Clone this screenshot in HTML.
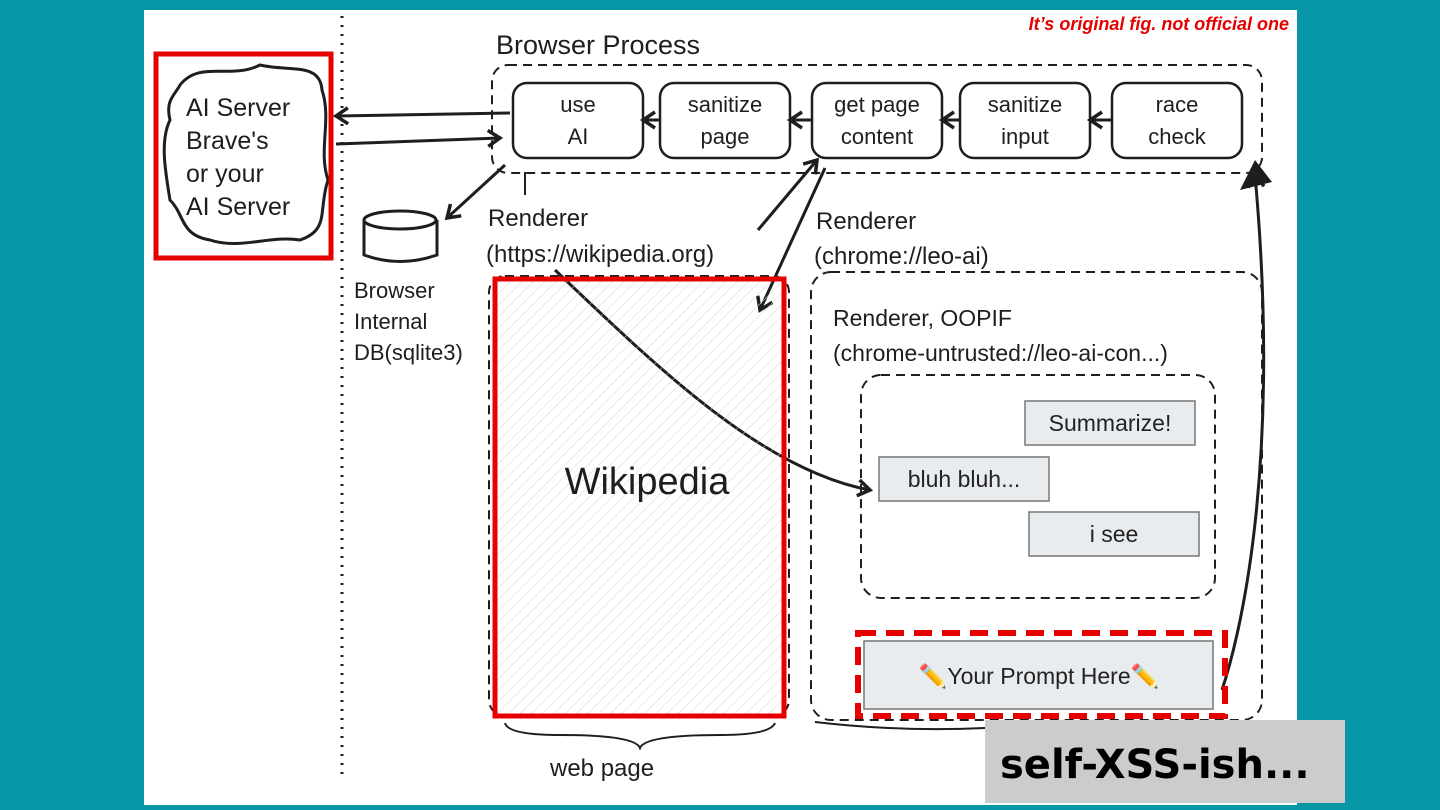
<!DOCTYPE html>
<html><head><meta charset="utf-8"><style>
html,body{margin:0;padding:0;background:#0796a5;width:1440px;height:810px;overflow:hidden}
svg{position:absolute;left:0;top:0}
.h{font-family:"Liberation Sans","DejaVu Sans",sans-serif;fill:#1e1e1e}
</style></head><body>
<svg width="1440" height="810" viewBox="0 0 1440 810" xmlns="http://www.w3.org/2000/svg">
<defs>
<pattern id="hatch" width="8" height="8" patternUnits="userSpaceOnUse" patternTransform="rotate(45)">
<line x1="0" y1="0" x2="0" y2="8" stroke="#d6d6d6" stroke-width="1"/></pattern>
<marker id="ar" markerWidth="20" markerHeight="20" refX="14" refY="10" orient="auto" markerUnits="userSpaceOnUse">
<path d="M2,2 L14,10 L2,18" fill="none" stroke="#1e1e1e" stroke-width="3.5"/></marker>
</defs>
<rect x="144" y="10" width="1153" height="795" fill="#fff"/>
<text x="1289" y="30" text-anchor="end" font-family="Liberation Sans,sans-serif" font-style="italic" font-weight="bold" font-size="18" fill="#e60000">It’s original fig. not official one</text>
<line x1="342" y1="16" x2="342" y2="775" stroke="#1e1e1e" stroke-width="3" stroke-dasharray="2 7"/>
<path d="M180,85 C200,60 230,80 260,65 C290,72 320,62 322,90 C332,120 318,150 328,180 C318,210 330,230 300,240 C270,235 240,250 210,240 C180,235 185,215 170,200 C165,170 160,140 170,120 C165,100 175,95 180,85Z" fill="none" stroke="#1e1e1e" stroke-width="3"/>
<rect x="156" y="54" width="175" height="204" fill="none" stroke="#e60000" stroke-width="5"/>
<g class="h" font-size="25"><text x="186" y="116">AI Server</text><text x="186" y="149">Brave's</text><text x="186" y="182">or your</text><text x="186" y="215">AI Server</text></g>
<text class="h" x="496" y="54" font-size="27">Browser Process</text>
<rect x="492" y="65" width="770" height="108" rx="16" fill="none" stroke="#1e1e1e" stroke-width="2" stroke-dasharray="9 6"/>
<g fill="none" stroke="#1e1e1e" stroke-width="2.5">
<rect x="513" y="83" width="130" height="75" rx="14"/>
<rect x="660" y="83" width="130" height="75" rx="14"/>
<rect x="812" y="83" width="130" height="75" rx="14"/>
<rect x="960" y="83" width="130" height="75" rx="14"/>
<rect x="1112" y="83" width="130" height="75" rx="14"/>
</g>
<g class="h" font-size="22" text-anchor="middle">
<text x="578" y="112">use</text><text x="578" y="144">AI</text>
<text x="725" y="112">sanitize</text><text x="725" y="144">page</text>
<text x="877" y="112">get page</text><text x="877" y="144">content</text>
<text x="1025" y="112">sanitize</text><text x="1025" y="144">input</text>
<text x="1177" y="112">race</text><text x="1177" y="144">check</text>
</g>
<g stroke="#1e1e1e" stroke-width="3" fill="none" marker-end="url(#ar)">
<line x1="660" y1="120" x2="643" y2="120"/>
<line x1="812" y1="120" x2="790" y2="120"/>
<line x1="960" y1="120" x2="942" y2="120"/>
<line x1="1112" y1="120" x2="1090" y2="120"/>
<line x1="510" y1="113" x2="336" y2="116"/>
<line x1="336" y1="144" x2="500" y2="138"/>
<line x1="505" y1="165" x2="447" y2="218"/>
<line x1="758" y1="230" x2="817" y2="160"/>
<line x1="825" y1="168" x2="760" y2="310"/>
<path d="M1222,690 C1245,620 1280,450 1255,175"/>
<path d="M555,270 C650,360 760,470 870,490"/>
</g>
<path d="M1240,190 L1255,160 L1272,182Z" fill="#1e1e1e"/>
<line x1="525" y1="172" x2="525" y2="195" stroke="#1e1e1e" stroke-width="2"/>
<g fill="none" stroke="#1e1e1e" stroke-width="3"><path d="M364,220 L364,255 Q400,268 437,255 L437,220"/><ellipse cx="400" cy="220" rx="36" ry="9"/></g>
<g class="h" font-size="22"><text x="354" y="298">Browser</text><text x="354" y="329">Internal</text><text x="354" y="360">DB(sqlite3)</text></g>
<g class="h" font-size="24"><text x="488" y="226">Renderer</text><text x="486" y="262">(https://wikipedia.org)</text>
<text x="816" y="229">Renderer</text><text x="814" y="264">(chrome://leo-ai)</text></g>
<rect x="489" y="276" width="300" height="440" rx="16" fill="none" stroke="#1e1e1e" stroke-width="2" stroke-dasharray="9 6"/>
<rect x="495" y="279" width="289" height="437" fill="url(#hatch)" stroke="#e60000" stroke-width="5"/>
<text class="h" x="647" y="494" font-size="38" text-anchor="middle">Wikipedia</text>
<path d="M505,723 Q508,735 560,735 Q635,735 640,748 Q645,735 720,735 Q770,735 775,723" fill="none" stroke="#1e1e1e" stroke-width="2"/>
<text class="h" x="550" y="776" font-size="24">web page</text>
<rect x="811" y="272" width="451" height="448" rx="20" fill="none" stroke="#1e1e1e" stroke-width="2" stroke-dasharray="9 6"/>
<g class="h" font-size="23"><text x="833" y="326">Renderer, OOPIF</text><text x="833" y="361">(chrome-untrusted://leo-ai-con...)</text></g>
<rect x="861" y="375" width="354" height="223" rx="20" fill="none" stroke="#1e1e1e" stroke-width="2" stroke-dasharray="9 6"/>
<g fill="#e9ecef" stroke="#777" stroke-width="1.5">
<rect x="1025" y="401" width="170" height="44"/><rect x="879" y="457" width="170" height="44"/><rect x="1029" y="512" width="170" height="44"/>
<rect x="864" y="641" width="349" height="68"/></g>
<g font-family="Liberation Sans,DejaVu Sans,sans-serif" font-size="23" fill="#222" text-anchor="middle">
<text x="1110" y="431">Summarize!</text><text x="964" y="487">bluh bluh...</text><text x="1114" y="542">i see</text>
<text x="1039" y="684">✏️Your Prompt Here✏️</text></g>
<rect x="858" y="633" width="367" height="83" fill="none" stroke="#e60000" stroke-width="6" stroke-dasharray="18 10"/>
<path d="M815,722 Q900,732 985,728" fill="none" stroke="#1e1e1e" stroke-width="2"/>
<rect x="985" y="720" width="360" height="83" fill="#cccccc"/>
<text x="1000" y="778" font-family="DejaVu Sans,Liberation Sans,sans-serif" font-weight="bold" font-size="40" fill="#000">self-XSS-ish...</text>
</svg>
</body></html>
